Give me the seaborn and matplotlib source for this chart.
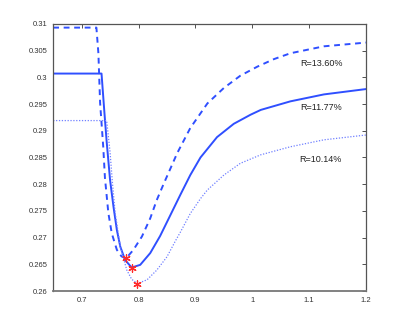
import matplotlib
matplotlib.use("Agg")
import matplotlib.pyplot as plt
import seaborn as sns

# ---- data ----
x_high = [0.65, 0.726, 0.7295, 0.7325, 0.738, 0.741, 0.747, 0.753, 0.762, 0.770, 0.778,
          0.791, 0.806, 0.8206, 0.832, 0.844, 0.868, 0.891, 0.921, 0.950, 0.979,
          1.009, 1.038, 1.067, 1.126, 1.2]
y_high = [0.3093, 0.3093, 0.3045, 0.2952, 0.2870, 0.2812, 0.2746, 0.2708, 0.2677, 0.2665, 0.2661,
          0.2677, 0.2702, 0.2736, 0.2770, 0.2800, 0.2858, 0.2905, 0.2951, 0.2980, 0.3003,
          0.3020, 0.3034, 0.3045, 0.3058, 0.3065]

x_mid = [0.65, 0.735, 0.740, 0.744, 0.750, 0.756, 0.762, 0.768, 0.7765, 0.788, 0.803,
         0.8206, 0.838, 0.856, 0.8735, 0.891, 0.909, 0.938, 0.9675, 0.997, 1.015,
         1.067, 1.126, 1.2]
y_mid = [0.3007, 0.3007, 0.2935, 0.2880, 0.2808, 0.2758, 0.2714, 0.2683, 0.2658, 0.2644, 0.2649,
         0.2671, 0.2703, 0.2742, 0.2780, 0.2817, 0.2850, 0.2888, 0.2913, 0.2930, 0.2939,
         0.2955, 0.2968, 0.2978]

x_low = [0.65, 0.744, 0.747, 0.750, 0.754, 0.759, 0.768, 0.7795, 0.788, 0.798, 0.815,
         0.832, 0.850, 0.865, 0.8735, 0.891, 0.909, 0.921, 0.950, 0.979, 1.015,
         1.067, 1.126, 1.2]
y_low = [0.2919, 0.2919, 0.2890, 0.2860, 0.2805, 0.2746, 0.2683, 0.2639, 0.2622, 0.2614, 0.2621,
         0.2639, 0.2664, 0.2694, 0.2710, 0.2745, 0.2773, 0.2789, 0.2817, 0.2839, 0.2855,
         0.2870, 0.2883, 0.2892]

min_x = [0.778, 0.788, 0.798]
min_y = [0.2661, 0.2644, 0.2614]

labels = ["R=13.60%", "R=11.77%", "R=10.14%"]
label_x = [1.121, 1.121, 1.120]
label_y = [0.3026, 0.2943, 0.2847]

x_ticks = [0.7, 0.8, 0.9, 1.0, 1.1, 1.2]
x_ticklabels = ["0.7", "0.8", "0.9", "1", "1.1", "1.2"]
y_ticks = [0.26, 0.265, 0.27, 0.275, 0.28, 0.285, 0.29, 0.295, 0.3, 0.305, 0.31]
y_ticklabels = ["0.26", "0.265", "0.27", "0.275", "0.28", "0.285", "0.29", "0.295", "0.3", "0.305", "0.31"]

# ---- plotting ----
sns.set_style("white")
plt.rcParams["font.family"] = ["Liberation Sans", "DejaVu Sans"]

fig = plt.figure(figsize=(4.09, 3.27), dpi=100)
ax = fig.add_axes([0.13, 0.11, 0.765, 0.817])

blue = "#2f4fff"
sns.lineplot(x=x_high, y=y_high, ax=ax, color=blue, linestyle=(0, (3.0, 2.4)), linewidth=1.4,
             estimator=None, sort=False)
sns.lineplot(x=x_mid, y=y_mid, ax=ax, color=blue, linestyle="-", linewidth=1.4,
             estimator=None, sort=False)
sns.lineplot(x=x_low, y=y_low, ax=ax, color="#7080ff", linestyle=(0, (1, 1.3)), linewidth=0.9,
             estimator=None, sort=False)
sns.scatterplot(x=min_x, y=min_y, ax=ax, marker=(6, 2, 0), color="#ff2a2a", s=28,
                linewidth=0.9, edgecolor="#ff2a2a", zorder=5)

for t, lx, ly in zip(labels, label_x, label_y):
    ax.text(lx, ly, t, fontsize=6.5, color="#222222", ha="center", va="center")

ax.set_xlim(0.65, 1.2)
ax.set_ylim(0.26, 0.31)
ax.set_xticks(x_ticks)
ax.set_xticklabels(x_ticklabels)
ax.set_yticks(y_ticks)
ax.set_yticklabels(y_ticklabels)
ax.tick_params(direction="in", length=3, width=0.6, labelsize=5.5, colors="#333333",
               top=True, right=True, pad=4)
for s in ax.spines.values():
    s.set_visible(True)
    s.set_color("#555555")
    s.set_linewidth(0.9)
ax.spines["bottom"].set_linewidth(1.3)
ax.spines["bottom"].set_color("#777777")
ax.set_xlabel("")
ax.set_ylabel("")

fig.savefig("out.png", dpi=100)
